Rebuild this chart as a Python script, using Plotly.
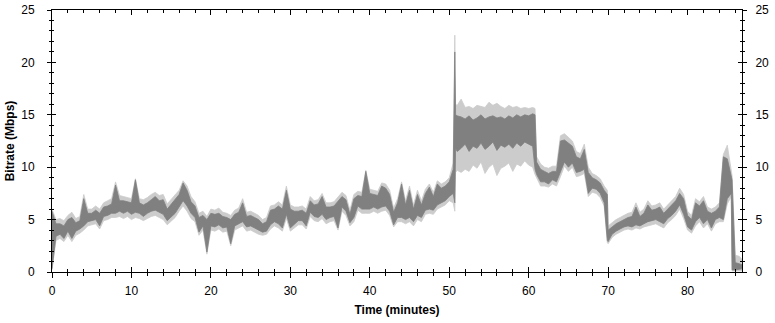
import plotly.graph_objects as go

# Time (minutes)
time_min = [
    0.0, 0.5, 1.0, 1.5, 2.0, 2.5, 3.0, 3.5, 4.0, 4.5,
    5.0, 5.5, 6.0, 6.5, 7.0, 7.5, 8.0, 8.5, 9.0, 9.5,
    10.0, 10.5, 11.0, 11.5, 12.0, 12.5, 13.0, 13.5, 14.0, 14.5,
    15.0, 15.5, 16.0, 16.5, 17.0, 17.5, 18.0, 18.5, 19.0, 19.5,
    20.0, 20.5, 21.0, 21.5, 22.0, 22.5, 23.0, 23.5, 24.0, 24.5,
    25.0, 25.5, 26.0, 26.5, 27.0, 27.5, 28.0, 28.5, 29.0, 29.5,
    30.0, 30.5, 31.0, 31.5, 32.0, 32.5, 33.0, 33.5, 34.0, 34.5,
    35.0, 35.5, 36.0, 36.5, 37.0, 37.5, 38.0, 38.5, 39.0, 39.5,
    40.0, 40.5, 41.0, 41.5, 42.0, 42.5, 43.0, 43.5, 44.0, 44.5,
    45.0, 45.5, 46.0, 46.5, 47.0, 47.5, 48.0, 48.5, 49.0, 49.5,
    50.0, 50.5, 50.7, 50.8,
    51.0, 51.5, 52.0, 52.5, 53.0, 53.5, 54.0, 54.5, 55.0, 55.5,
    56.0, 56.5, 57.0, 57.5, 58.0, 58.5, 59.0, 59.5, 60.0, 60.5,
    60.8,
    61.0, 61.5, 62.0, 62.5, 63.0, 63.5, 64.0, 64.5, 65.0, 65.5,
    66.0, 66.5, 67.0, 67.5, 68.0, 68.5, 69.0, 69.5,
    69.9,
    70.0, 70.5, 71.0, 71.5, 72.0, 72.5, 73.0, 73.5, 74.0, 74.5,
    75.0, 75.5, 76.0, 76.5, 77.0, 77.5, 78.0, 78.5, 79.0, 79.5,
    80.0, 80.5, 81.0, 81.5, 82.0, 82.5, 83.0, 83.5, 84.0, 84.5,
    85.0, 85.5, 85.6, 86.0, 86.5, 86.85,
]

# Bitrate (Mbps) - dense core of the trace (dark gray), low / high edge
dark_lo = [
    0.3, 3.4, 3.6, 3.2, 3.9, 3.2, 3.9, 4.1, 4.4, 4.8,
    4.9, 5.0, 4.4, 5.3, 5.4, 5.6, 5.6, 5.8, 5.6, 5.8,
    5.5, 5.7, 5.6, 5.3, 5.6, 5.8, 5.9, 5.7, 5.5, 4.9,
    5.3, 5.6, 6.2, 6.8, 6.3, 5.6, 5.2, 3.8, 4.4, 1.9,
    4.4, 4.3, 4.5, 4.2, 4.3, 2.7, 4.4, 4.6, 4.8, 4.3,
    4.4, 4.2, 4.0, 3.8, 3.9, 4.5, 4.8, 4.6, 4.2, 5.5,
    4.2, 4.6, 4.9, 4.9, 4.4, 5.7, 5.3, 5.2, 5.5, 5.0,
    5.2, 5.3, 4.2, 6.2, 5.8, 4.7, 5.2, 6.3, 6.0, 6.0,
    6.0, 6.2, 6.0, 6.2, 6.3, 5.8, 4.5, 5.2, 5.2, 5.0,
    5.2, 4.8, 5.4, 5.2, 5.9, 6.0, 5.9, 6.4, 6.6, 6.8,
    7.2, 7.5, 6.6, 11.8,
    11.5, 11.8, 12.2, 11.5, 12.0, 11.8, 12.3, 11.7, 12.0, 12.4,
    11.6, 12.1, 11.9, 12.2, 11.8, 12.3, 12.0, 12.4, 12.2, 12.0,
    9.8,
    9.3, 8.6, 8.6, 8.4, 8.8, 8.6, 9.5, 10.5, 10.0, 10.4,
    9.5, 9.6, 9.8, 7.5, 8.0, 7.9, 7.5, 6.6,
    3.0,
    2.9, 3.6, 3.9, 4.1, 4.3, 4.4, 4.3, 4.5, 4.4, 4.6,
    4.8, 4.9, 5.0, 4.8, 4.6, 5.1, 5.4, 5.8, 6.4, 5.5,
    4.3, 4.0, 4.8, 5.2, 4.6, 5.0, 4.2, 5.0, 5.2, 5.0,
    7.0, 7.5, 0.2, 0.2, 0.3, 0.3,
]
dark_hi = [
    5.8, 4.6, 4.6, 4.4, 5.0, 5.2, 4.7, 4.9, 7.0, 5.6,
    5.6, 5.9, 5.6, 6.2, 6.3, 6.5, 8.3, 6.8, 6.8, 6.7,
    6.6, 8.8, 6.6, 6.4, 6.6, 6.9, 7.2, 6.8, 6.9, 6.0,
    6.5, 7.0, 7.4, 8.5, 7.8, 6.7, 6.3, 5.2, 5.4, 5.0,
    5.6, 5.5, 5.6, 5.3, 5.2, 5.0, 5.5, 5.7, 6.6, 5.3,
    5.4, 5.2, 5.0, 4.6, 4.8, 5.9, 6.0, 6.3, 6.0, 7.8,
    6.0, 5.8, 5.8, 5.9, 5.6, 6.8, 6.4, 6.5, 7.2, 6.2,
    6.2, 6.3, 6.8, 7.2, 6.9, 5.5, 7.0, 7.3, 7.2, 9.6,
    7.5, 7.4, 7.3, 8.2, 8.0, 7.4, 5.7, 6.6, 8.4, 6.4,
    7.8, 6.0, 7.4, 6.4, 7.5, 8.1, 7.2, 8.4, 8.0, 8.2,
    8.6, 9.8, 21.0, 15.0,
    14.9, 14.8, 14.6, 14.9, 14.5, 14.7, 15.0, 14.6, 14.8, 14.9,
    14.7, 14.8, 14.6, 14.9, 14.7, 15.0, 14.8, 15.0, 14.9, 15.1,
    15.0,
    10.5, 9.8, 9.6, 9.4, 9.6, 9.6, 12.5, 12.6, 12.3, 12.0,
    11.0, 10.8, 11.7, 9.5, 9.0, 8.8, 8.5, 7.8,
    7.4,
    4.0, 4.3, 4.6, 4.8, 5.0, 5.2, 5.3, 6.2, 5.3, 5.6,
    6.4, 5.9, 6.0, 6.2, 5.6, 6.0, 6.3, 6.8, 7.5, 7.0,
    5.4, 5.0, 6.6, 6.3, 6.8, 5.8, 5.6, 5.8, 6.2, 11.0,
    10.8, 9.0, 8.8, 0.9, 0.8, 0.7,
]

# Bitrate (Mbps) - full spread of the trace (light gray), low / high edge
light_lo = [
    0.2, 3.0, 3.2, 2.9, 3.5, 2.9, 3.5, 3.7, 4.0, 4.4,
    4.5, 4.6, 4.1, 4.9, 5.0, 5.2, 5.2, 5.3, 5.1, 5.3,
    5.0, 5.2, 5.1, 4.9, 5.1, 5.3, 5.4, 5.2, 5.0, 4.5,
    4.9, 5.2, 5.8, 6.3, 5.8, 5.1, 4.8, 3.5, 4.0, 1.7,
    4.0, 3.9, 4.1, 3.8, 3.9, 2.5, 4.0, 4.2, 4.4, 3.9,
    4.0, 3.8, 3.6, 3.5, 3.6, 4.1, 4.4, 4.2, 3.9, 5.1,
    3.9, 4.2, 4.5, 4.5, 4.1, 5.3, 4.9, 4.8, 5.1, 4.6,
    4.8, 4.9, 4.0, 5.8, 5.4, 4.4, 4.8, 5.9, 5.6, 5.6,
    5.6, 5.8, 5.6, 5.8, 5.9, 5.4, 4.3, 4.8, 4.8, 4.6,
    4.8, 4.4, 5.0, 4.8, 5.5, 5.6, 5.5, 6.0, 6.2, 6.4,
    6.8, 6.6, 5.8, 9.5,
    9.7, 9.5, 9.8, 9.6, 10.2, 9.9, 10.5, 9.4, 10.0, 10.3,
    9.2, 9.9, 10.1, 10.4, 9.6, 10.3, 10.1, 10.6, 10.2, 10.0,
    9.3,
    9.0, 8.2, 8.2, 8.1, 8.4, 8.2, 9.1, 10.1, 9.6, 10.0,
    9.1, 9.2, 9.4, 7.2, 7.6, 7.5, 7.1, 6.3,
    2.8,
    2.7, 3.3, 3.6, 3.8, 4.0, 4.1, 4.0, 4.2, 4.1, 4.3,
    4.4, 4.5, 4.6, 4.4, 4.2, 4.7, 5.0, 5.4, 6.0, 5.1,
    4.0, 3.7, 4.4, 4.8, 4.2, 4.6, 3.9, 4.6, 4.8, 4.8,
    6.5, 7.2, 0.1, 0.1, 0.1, 0.1,
]
light_hi = [
    6.0, 5.0, 5.1, 4.9, 5.4, 5.7, 5.1, 5.3, 7.4, 6.0,
    6.0, 6.3, 6.0, 6.6, 6.8, 7.0, 8.6, 7.3, 7.2, 7.1,
    7.0, 8.9, 7.0, 6.9, 7.1, 7.4, 7.6, 7.3, 7.4, 6.5,
    6.9, 7.3, 7.8, 8.7, 8.2, 7.2, 6.7, 5.6, 5.8, 5.3,
    6.0, 5.9, 6.1, 5.7, 5.6, 5.4, 5.9, 6.1, 7.0, 5.7,
    5.8, 5.6, 5.4, 5.0, 5.2, 6.3, 6.4, 6.7, 6.4, 8.2,
    6.4, 6.2, 6.2, 6.3, 6.0, 7.2, 6.8, 6.9, 7.5, 6.6,
    6.6, 6.7, 7.2, 7.6, 7.3, 5.9, 7.4, 7.7, 7.6, 9.7,
    7.9, 7.8, 7.7, 8.5, 8.4, 7.8, 6.1, 7.0, 8.6, 6.8,
    8.2, 6.4, 7.8, 6.8, 7.9, 8.4, 7.6, 8.7, 8.4, 8.6,
    9.0, 10.4, 22.6, 16.0,
    15.9, 16.5, 15.7, 15.8, 15.6, 15.9, 15.8, 15.7, 16.2, 15.9,
    16.1, 15.8, 15.6, 15.9, 15.7, 15.8, 15.6, 15.7, 15.6, 15.7,
    15.6,
    11.0, 10.3, 10.0, 9.9, 10.1, 10.1, 13.0, 13.2, 12.8, 12.5,
    11.5, 11.3, 12.2, 10.0, 9.4, 9.2, 8.9, 8.2,
    7.8,
    4.4, 4.7, 5.0, 5.2, 5.4, 5.6, 5.7, 6.6, 5.7, 6.0,
    6.8, 6.3, 6.4, 6.6, 6.0, 6.4, 6.7, 7.2, 8.0, 7.4,
    5.8, 5.4, 7.0, 6.7, 7.2, 6.2, 6.0, 6.2, 6.6, 11.2,
    12.1, 9.5, 9.2, 1.6, 1.5, 1.2,
]

x_ticks = [0, 10, 20, 30, 40, 50, 60, 70, 80]
x_tick_labels = ["0", "10", "20", "30", "40", "50", "60", "70", "80"]
y_ticks = [0, 5, 10, 15, 20, 25]
y_tick_labels = ["0", "5", "10", "15", "20", "25"]

LIGHT = "#cccccc"
DARK = "#808080"
FONT = "Liberation Sans, Arial, sans-serif"

fig = go.Figure()
fig.add_trace(go.Scatter(x=time_min, y=light_lo, mode="lines",
                         line=dict(color=LIGHT, width=0.8), hoverinfo="skip", showlegend=False))
fig.add_trace(go.Scatter(x=time_min, y=light_hi, mode="lines", fill="tonexty", fillcolor=LIGHT,
                         line=dict(color=LIGHT, width=0.8), hoverinfo="skip", showlegend=False))
fig.add_trace(go.Scatter(x=time_min, y=dark_lo, mode="lines",
                         line=dict(color=DARK, width=0.8), hoverinfo="skip", showlegend=False))
fig.add_trace(go.Scatter(x=time_min, y=dark_hi, mode="lines", fill="tonexty", fillcolor=DARK,
                         line=dict(color=DARK, width=0.8), hoverinfo="skip", showlegend=False))
# carriers for the overlay axes (inside ticks, right labels)
fig.add_trace(go.Scatter(x=[None], y=[None], xaxis="x2", yaxis="y2", showlegend=False, hoverinfo="skip"))
fig.add_trace(go.Scatter(x=[None], y=[None], xaxis="x", yaxis="y3", showlegend=False, hoverinfo="skip"))

XR = [0, 86.85]
YR = [0, 25]
tickfont = dict(family=FONT, size=12, color="black")

fig.update_layout(
    width=775, height=323,
    margin=dict(l=52, r=33, t=10, b=51, autoexpand=False),
    paper_bgcolor="white", plot_bgcolor="white",
    font=dict(family=FONT, size=12, color="black"),
    xaxis=dict(range=XR, showgrid=False, zeroline=False, showline=True, linecolor="black", linewidth=1,
               automargin=False,
               ticks="outside", ticklen=5, tickcolor="black", tickwidth=1,
               tickmode="array", tickvals=x_ticks, ticktext=x_tick_labels,
               minor=dict(ticks="outside", ticklen=3, dtick=2, tick0=0, tickcolor="black", showgrid=False),
               tickfont=tickfont, ticklabelstandoff=3,
               title=dict(text="<b>Time (minutes)</b>", font=dict(family=FONT, size=12, color="black"), standoff=8)),
    xaxis2=dict(range=XR, overlaying="x", anchor="y2", showgrid=False, zeroline=False, showline=True,
                automargin=False,
                linecolor="black", linewidth=1, mirror="ticks",
                ticks="inside", ticklen=5, tickcolor="black", tickwidth=1,
                tickmode="array", tickvals=x_ticks, showticklabels=False,
                minor=dict(ticks="inside", ticklen=3, dtick=2, tick0=0, tickcolor="black", showgrid=False)),
    yaxis=dict(range=YR, showgrid=False, zeroline=False, showline=True, linecolor="black", linewidth=1,
               automargin=False,
               ticks="outside", ticklen=4, tickcolor="black", tickwidth=1,
               tickmode="array", tickvals=y_ticks, ticktext=y_tick_labels,
               minor=dict(ticks="outside", ticklen=2, dtick=1, tick0=0, tickcolor="black", showgrid=False),
               tickfont=tickfont, ticklabelstandoff=10,
               title=dict(text="<b>Bitrate (Mbps)</b>", font=dict(family=FONT, size=12, color="black"), standoff=4)),
    yaxis2=dict(range=YR, overlaying="y", anchor="x2", showgrid=False, zeroline=False, showline=True,
                automargin=False,
                linecolor="black", linewidth=1, mirror="ticks",
                ticks="inside", ticklen=4, tickcolor="black", tickwidth=1,
                tickmode="array", tickvals=y_ticks, showticklabels=False,
                minor=dict(ticks="inside", ticklen=2, dtick=1, tick0=0, tickcolor="black", showgrid=False)),
    yaxis3=dict(range=YR, overlaying="y", side="right", anchor="x", showgrid=False, zeroline=False,
                automargin=False,
                showline=True, linecolor="black", linewidth=1,
                ticks="outside", ticklen=4, tickcolor="black", tickwidth=1,
                tickmode="array", tickvals=y_ticks, ticktext=y_tick_labels,
                minor=dict(ticks="outside", ticklen=2, dtick=1, tick0=0, tickcolor="black", showgrid=False),
                tickfont=tickfont, ticklabelstandoff=6),
)

fig.write_html("out.html", config={"displayModeBar": False},
               post_script="document.body.style.margin='0px';document.body.style.padding='0px';")
